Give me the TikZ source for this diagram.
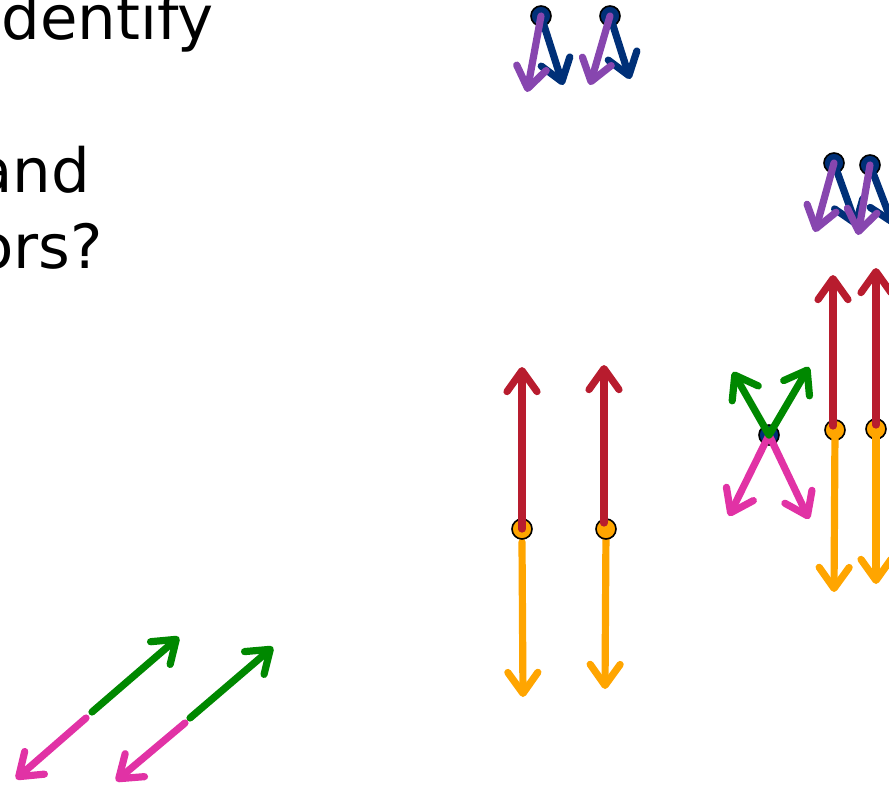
\documentclass[tikz,border=0pt]{standalone}
\usepackage{fontspec}
\setmainfont{DejaVu Sans}
\usetikzlibrary{arrows.meta}
\definecolor{cred}{RGB}{184,28,46}
\definecolor{corange}{RGB}{255,165,0}
\definecolor{cnavy}{RGB}{0,48,120}
\definecolor{cpurple}{RGB}{135,70,175}
\definecolor{cgreen}{RGB}{0,136,0}
\definecolor{cpink}{RGB}{225,50,165}
\begin{document}
\begin{tikzpicture}[x=1pt,y=-1pt,
  vec/.style={line width=7.2pt, line cap=round, -{Straight Barb[length=21pt,width=30pt,round]}},
  dot/.style={circle, draw=black, line width=1.6pt, minimum size=20pt, inner sep=0pt},
  navydot/.style={dot, fill=cnavy},
  orangedot/.style={dot, fill=corange},
  txt/.style={font=\fontsize{61}{74}\selectfont, inner sep=0pt, anchor=base east}]
\useasboundingbox (0,0) rectangle (889,787);

% text
\node[txt] (t1) at (214,39) {dentify};
\node[txt] (t2) at (90,192) {and};
\node[txt] (t3) at (103,268) {ors?};

% top pair
\coordinate (p1) at (527,92);
\coordinate (n1) at (563,85);
\coordinate (p2) at (590,85);
\coordinate (n2) at (630,79);
\node[navydot] (c1) at (541,16) {};
\node[navydot] (c2) at (610,16) {};
\draw[vec, cnavy] (c1.center) -- (n1);
\draw[vec, cnavy] (c2.center) -- (n2);
\draw[vec, cpurple] (c1.center) -- (p1);
\draw[vec, cpurple] (c2.center) -- (p2);

% right top pair
\coordinate (p3) at (815,232);
\coordinate (n3) at (857,227);
\coordinate (p4) at (858,235);
\coordinate (n4) at (893,225);
\node[navydot] (c3) at (834,163) {};
\node[navydot] (c4) at (870,165) {};
\draw[vec, cnavy] (c3.center) -- (n3);
\draw[vec, cnavy] (c4.center) -- (n4);
\draw[vec, cpurple] (c3.center) -- (p3);
\draw[vec, cpurple] (c4.center) -- (p4);

% middle red/orange pair
\coordinate (r1) at (522,367);
\coordinate (r2) at (604,365);
\coordinate (y1) at (523,697);
\coordinate (y2) at (605,689);
\draw[vec, corange] (522,542) -- (y1);
\draw[vec, corange] (606,529) -- (y2);
\node[orangedot] (o1) at (522,529) {};
\node[orangedot] (o2) at (606,529) {};
\draw[vec, cred] (o1.center) -- (r1);
\draw[vec, cred] (o2.center) ++(-2,-6) -- (r2);

% right red/orange pair
\coordinate (r3) at (833,275);
\coordinate (r4) at (876,268);
\coordinate (y3) at (834,592);
\coordinate (y4) at (876,584);
\node[orangedot] (o3) at (835,430) {};
\node[orangedot] (o4) at (876,429) {};
\draw[vec, corange] (o3.center) -- (y3);
\draw[vec, corange] (o4.center) -- (y4);
\draw[vec, cred] (o3.center) ++(-2,-4) -- (r3);
\draw[vec, cred] (o4.center) ++(0,-4) -- (r4);

% crossing vectors
\coordinate (g1) at (733,372);
\coordinate (g2) at (809,367);
\coordinate (k1) at (729,516);
\coordinate (k2) at (809,519);
\node[navydot] (d5) at (769,435) {};
\draw[vec, cpink] (d5.center) -- (k1);
\draw[vec, cpink] (d5.center) -- (k2);
\draw[vec, cgreen] (d5.center) -- (g1);
\draw[vec, cgreen] (d5.center) -- (g2);

% bottom-left pairs
\coordinate (a1) at (92,712);
\coordinate (ga) at (179,637);
\coordinate (b1) at (86,718);
\coordinate (ka) at (16,779);
\coordinate (a2) at (190,718);
\coordinate (gb) at (273,647);
\coordinate (b2) at (185,723);
\coordinate (kb) at (116,781);
\draw[vec, cgreen] (a1) -- (ga);
\draw[vec, cpink] (b1) -- (ka);
\draw[vec, cgreen] (a2) -- (gb);
\draw[vec, cpink] (b2) -- (kb);
\end{tikzpicture}
\end{document}
